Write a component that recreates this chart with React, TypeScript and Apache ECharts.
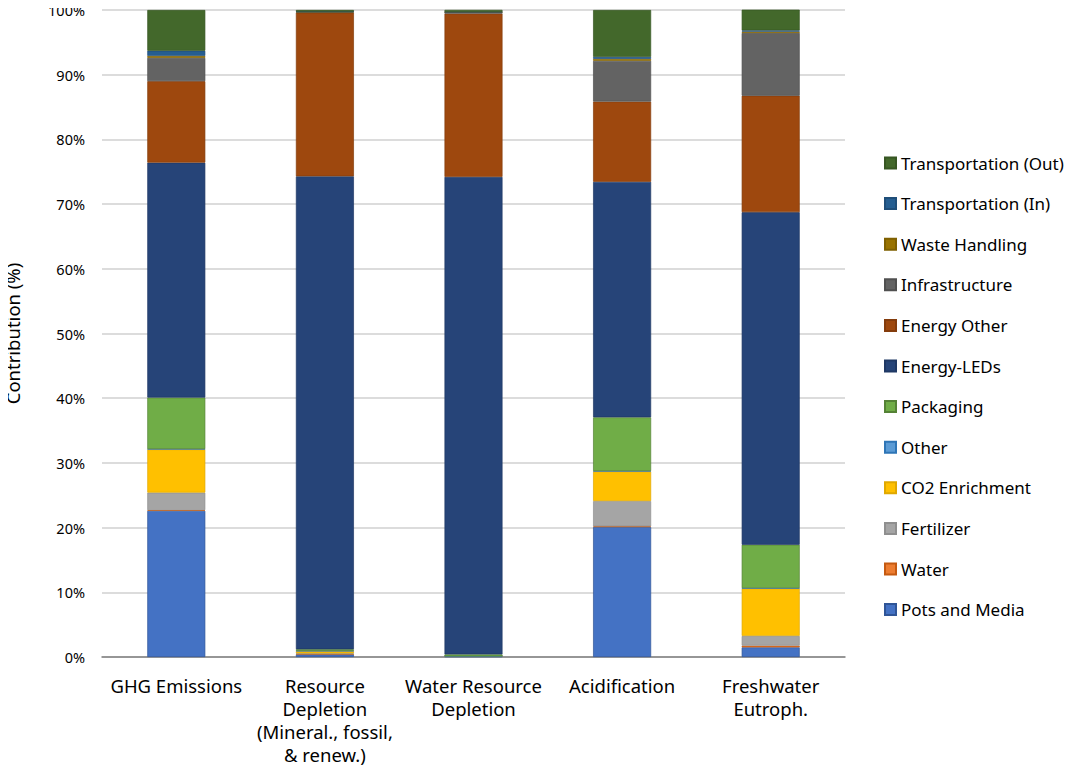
import React, { useEffect, useRef } from "react";
import * as echarts from "echarts";

const categories = [
  "GHG Emissions",
  "Resource\nDepletion\n(Mineral., fossil,\n& renew.)",
  "Water Resource\nDepletion",
  "Acidification",
  "Freshwater\nEutroph.",
];

const seriesNames = [
  "Pots and Media",
  "Water",
  "Fertilizer",
  "CO2 Enrichment",
  "Other",
  "Packaging",
  "Energy-LEDs",
  "Energy Other",
  "Infrastructure",
  "Waste Handling",
  "Transportation (In)",
  "Transportation (Out)",
];

const potsAndMedia = [22.6, 0.4, 0.1, 20.1, 1.5];
const water = [0.1, 0.05, 0, 0.1, 0.25];
const fertilizer = [2.7, 0.1, 0, 3.9, 1.5];
const co2Enrichment = [6.7, 0.35, 0, 4.6, 7.35];
const other = [0.05, 0.05, 0, 0.05, 0.05];
const packaging = [7.95, 0.25, 0.3, 8.3, 6.7];
const energyLEDs = [36.3, 73.1, 73.8, 36.4, 51.4];
const energyOther = [12.6, 25.3, 25.25, 12.4, 18.0];
const infrastructure = [3.6, 0.1, 0.2, 6.3, 9.7];
const wasteHandling = [0.3, 0.02, 0.02, 0.3, 0.2];
const transportIn = [0.8, 0.05, 0.05, 0.3, 0.2];
const transportOut = [6.3, 0.23, 0.3, 7.25, 3.2];

const yTicks = [0, 10, 20, 30, 40, 50, 60, 70, 80, 90, 100];

const seriesData = [
  potsAndMedia,
  water,
  fertilizer,
  co2Enrichment,
  other,
  packaging,
  energyLEDs,
  energyOther,
  infrastructure,
  wasteHandling,
  transportIn,
  transportOut,
];

const colors = [
  "#4472C4",
  "#ED7D31",
  "#A5A5A5",
  "#FFC000",
  "#5B9BD5",
  "#70AD47",
  "#264478",
  "#9E480E",
  "#636363",
  "#997300",
  "#255E91",
  "#43682B",
];
const borders = [
  "#2F5597",
  "#C55A11",
  "#8F8F8F",
  "#E0A800",
  "#2E75B6",
  "#548235",
  "#1F3864",
  "#843C0C",
  "#505050",
  "#7F6000",
  "#1F4E79",
  "#375623",
];

const FONT = "Noto Sans";

export default function App() {
  const ref = useRef<HTMLDivElement>(null);
  useEffect(() => {
    if (!ref.current) return;
    const chart = echarts.init(ref.current, undefined, { renderer: "svg" });
    chart.setOption({
      animation: false,
      grid: { left: 102, right: 239, top: 10, bottom: 120, outerBoundsMode: "none" },
      legend: {
        orient: "vertical",
        left: 879,
        top: 148,
        itemWidth: 11,
        itemHeight: 11,
        itemGap: 20.6,
        icon: "rect",
        data: [...seriesNames].reverse(),
        textStyle: { fontFamily: FONT, fontSize: 17, color: "#000", lineHeight: 20 },
      },
      xAxis: {
        type: "category",
        data: categories,
        axisTick: { show: false },
        axisLine: { lineStyle: { color: "#7f7f7f", width: 1.5 } },
        axisLabel: {
          fontFamily: FONT,
          fontSize: 18.5,
          color: "#000",
          lineHeight: 23,
          margin: 17,
          interval: 0,
        },
      },
      yAxis: {
        type: "value",
        min: 0,
        max: 100,
        interval: 10,
        name: "Contribution (%)",
        nameLocation: "middle",
        nameGap: 80,
        nameTextStyle: { fontFamily: FONT, fontSize: 18.5, color: "#000" },
        axisLabel: {
          fontFamily: FONT,
          fontSize: 14.5,
          color: "#000",
          margin: 17,
          formatter: (v: number) => (yTicks.includes(v) ? v + "%" : ""),
        },
        splitLine: { lineStyle: { color: "#d0d0d0", width: 1.5 } },
        axisLine: { show: false },
        axisTick: { show: false },
      },
      series: seriesNames.map((name, i) => ({
        name,
        type: "bar",
        stack: "total",
        barWidth: 58,
        data: seriesData[i],
        itemStyle: { color: colors[i], borderColor: borders[i], borderWidth: 0.7 },
      })),
    });
    return () => chart.dispose();
  }, []);
  return <div ref={ref} style={{ width: 1084, height: 777, margin: -8 }} />;
}
